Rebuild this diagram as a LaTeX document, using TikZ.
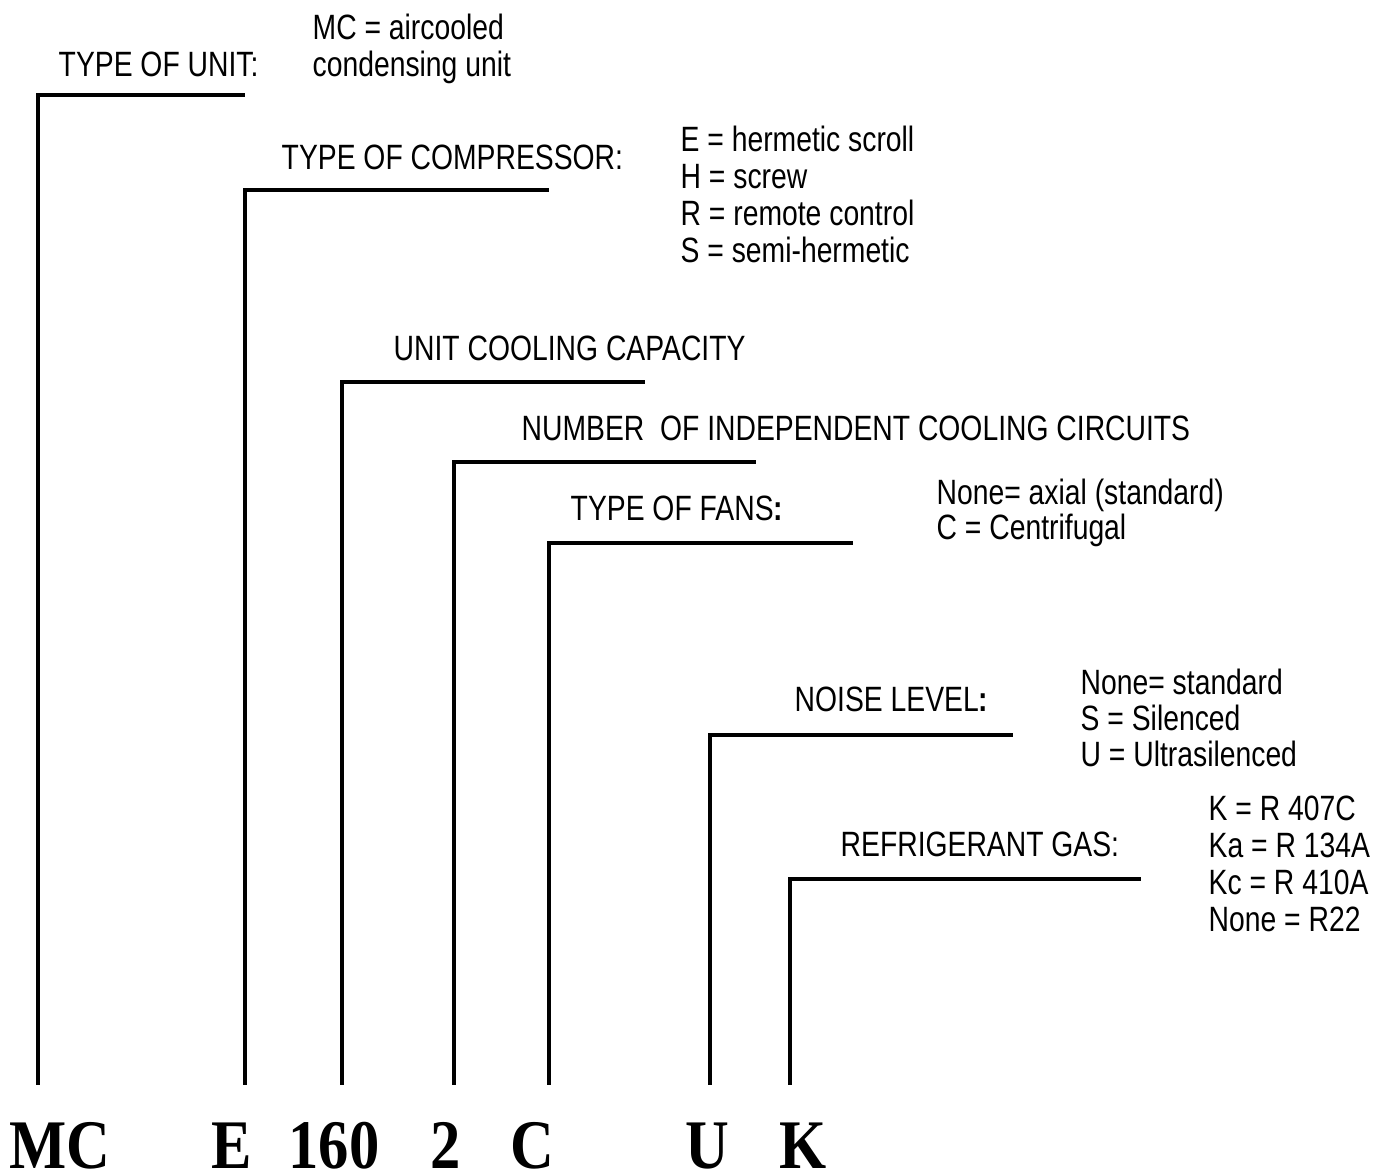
\documentclass[tikz,border=0pt]{standalone}
\usepackage{fontspec}
\setmainfont[FakeStretch=0.805]{Liberation Sans}
\newfontfamily\codefont[FakeStretch=0.87]{Liberation Serif}
\usepackage{tikz}
\usetikzlibrary{calc}

\tikzset{
  lbl/.style={anchor=base west,inner sep=0pt,font=\fontsize{10}{12}\selectfont},
  opt/.style={lbl},
  code/.style={anchor=base,inner sep=0pt,font=\codefont\bfseries\fontsize{19.8}{22}\selectfont},
  lead/.style={line width=1.15pt}
}

\begin{document}
\begin{tikzpicture}[x=0.01cm,y=-0.01cm]
  \useasboundingbox (0,0) rectangle (1378,1174);
  \def\bot{1085}% lower end of all leads
  % code letters
  \node[code] (mc)  at (60,1169)  {MC};
  \node[code] (e)   at (232,1169) {E};
  \node[code] (cap) at (334,1169) {160};
  \node[code] (two) at (446,1169) {2};
  \node[code] (c)   at (532,1169) {C};
  \node[code] (u)   at (707,1169) {U};
  \node[code] (k)   at (803,1169) {K};
  % lead lines: foot and end of the shelf
  \coordinate (f1) at (38,\bot);  \coordinate (s1) at (245,95);
  \coordinate (f2) at (245,\bot); \coordinate (s2) at (549,190);
  \coordinate (f3) at (342,\bot); \coordinate (s3) at (645,382);
  \coordinate (f4) at (454,\bot); \coordinate (s4) at (756,462);
  \coordinate (f5) at (549,\bot); \coordinate (s5) at (853,543);
  \coordinate (f6) at (710,\bot); \coordinate (s6) at (1013,735);
  \coordinate (f7) at (790,\bot); \coordinate (s7) at (1141,879);
  \foreach \i in {1,...,7}
    \draw[lead] (f\i) |- (s\i);
  % type of unit
  \node[lbl] (unit) at (58,77) {TYPE OF UNIT:};
  \node[opt] (unit1) at (312,40) {MC = aircooled};
  \node[opt] (unit2) at (312,77) {condensing unit};
  % compressor
  \node[lbl] (comp) at (281,170) {TYPE OF COMPRESSOR:};
  \foreach \t [count=\i from 0] in {E = hermetic scroll,H = screw,R = remote control,S = semi-hermetic}
    \node[opt] (comp\i) at (680,152+36.7*\i) {\t};
  % capacity, circuits
  \node[lbl] (capa) at (393,361) {UNIT COOLING CAPACITY};
  \node[lbl] (circ) at (521,441) {NUMBER\ \ OF INDEPENDENT COOLING CIRCUITS};
  % fans
  \node[lbl] (fans) at (570,521) {TYPE OF FANS\textbf{:}};
  \node[opt] (fans0) at (936,505) {None= axial (standard)};
  \node[opt] (fans1) at (936,540) {C = Centrifugal};
  % noise
  \node[lbl] (noise) at (794,712) {NOISE LEVEL\textbf{:}};
  \foreach \t [count=\i from 0] in {None= standard,S = Silenced,U = Ultrasilenced}
    \node[opt] (noise\i) at (1080,695+36*\i) {\t};
  % gas
  \node[lbl] (gas) at (840,857) {REFRIGERANT GAS:};
  \foreach \t [count=\i from 0] in {K = R 407C,Ka = R 134A,Kc = R 410A,None = R22}
    \node[opt] (gas\i) at (1208,821+36.7*\i) {\t};
\end{tikzpicture}
\end{document}
